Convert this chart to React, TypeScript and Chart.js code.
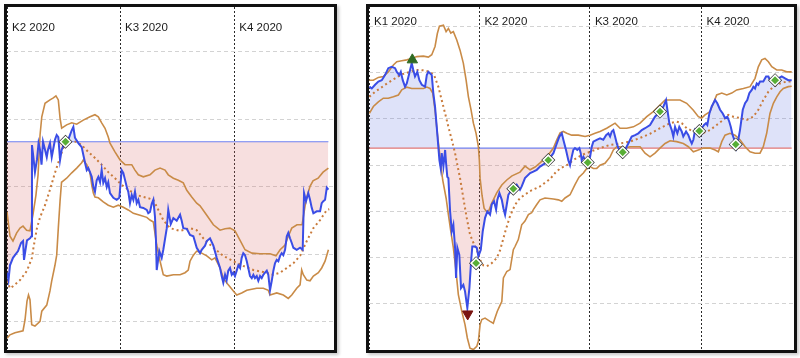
import React, { useEffect, useRef } from "react";
import { Chart, registerables } from "chart.js";

Chart.register(...registerables);

type P = [number, number][];

// ---------- LEFT PANEL (day of year 2020, value) ----------
const leftQuarterDays = [92, 183, 275];
const leftQuarterLabels = ["K2 2020", "K3 2020", "K4 2020"];
const leftGridValues = [40, 50, 60, 70, 80];
const leftRef = 66.7;

const leftPrice: P = [[92.0,47.3],[93.2,46.2],[94.4,48.4],[96.8,49.5],[98.4,49.9],[100.9,50.5],[103.3,51.7],[104.9,52.0],[105.7,49.2],[106.9,50.7],[108.1,52.1],[110.5,52.4],[111.7,52.7],[112.1,66.2],[113.3,64.3],[114.5,62.2],[116.1,64.0],[117.4,66.5],[118.6,65.5],[119.8,63.3],[121.0,66.7],[122.6,65.5],[124.0,64.4],[125.0,65.5],[126.6,66.5],[128.0,64.4],[130.6,67.0],[132.0,67.7],[133.3,67.4],[134.7,64.0],[136.0,65.5],[138.7,66.7],[141.3,67.0],[144.1,68.4],[145.4,68.9],[146.7,67.3],[149.4,66.5],[152.1,65.9],[154.8,63.6],[156.2,62.5],[157.4,62.8],[158.8,62.2],[160.2,61.5],[161.5,60.0],[162.8,59.3],[164.2,61.0],[165.5,61.5],[166.9,60.7],[168.2,62.5],[169.5,60.6],[170.9,61.3],[172.3,60.0],[173.5,60.7],[174.9,59.1],[177.6,58.4],[180.3,58.1],[182.4,58.4],[184.3,62.5],[185.6,62.1],[188.4,60.0],[189.6,59.3],[191.0,57.6],[192.4,58.8],[193.7,58.1],[195.0,59.3],[196.4,57.6],[197.7,58.1],[199.1,57.0],[201.7,56.9],[204.5,56.6],[205.7,56.1],[207.1,56.3],[208.5,57.5],[209.8,58.1],[211.1,55.6],[211.9,52.1],[212.5,47.7],[214.6,50.5],[216.5,49.5],[217.8,50.7],[220.6,53.9],[221.8,56.6],[223.8,54.5],[225.9,55.4],[228.6,55.0],[231.3,55.9],[232.6,55.0],[233.9,53.9],[236.7,53.8],[239.3,52.9],[242.0,52.7],[244.7,51.0],[247.4,50.2],[248.7,50.7],[251.4,51.3],[252.8,52.0],[255.4,52.4],[258.1,51.3],[260.8,49.5],[263.5,48.0],[264.8,46.8],[266.1,45.8],[267.5,47.0],[268.8,46.2],[270.1,47.6],[271.5,48.0],[272.9,47.0],[274.2,47.3],[275.5,46.8],[276.9,47.6],[278.2,48.4],[279.6,48.0],[280.9,49.5],[282.2,50.2],[283.6,49.9],[285.0,49.0],[287.6,46.8],[289.0,46.5],[290.3,47.0],[291.6,46.5],[293.0,46.8],[294.3,46.1],[295.7,46.8],[297.0,46.5],[298.3,47.0],[299.7,47.3],[301.1,47.6],[302.3,47.0],[303.7,44.7],[305.1,46.1],[306.4,47.6],[307.7,48.7],[309.1,49.2],[310.4,49.0],[311.8,49.8],[313.1,50.2],[314.4,49.9],[315.8,50.7],[317.2,52.7],[318.4,53.2],[319.8,52.4],[321.2,51.7],[322.5,51.0],[325.2,50.7],[327.9,51.0],[330.0,50.7],[331.1,59.1],[332.7,57.9],[334.5,59.1],[335.9,58.1],[337.3,56.9],[338.6,56.1],[341.3,56.4],[344.0,56.4],[345.3,57.6],[346.6,57.9],[348.0,58.1],[349.4,59.9],[350.7,59.6]];

const leftUpper: P = [[92.0,56.3],[94.4,52.7],[96.8,52.0],[99.8,53.2],[102.5,53.9],[104.9,54.2],[107.8,53.6],[110.5,53.5],[112.9,55.9],[115.3,58.8],[117.0,61.8],[118.6,67.7],[120.0,70.4],[122.6,72.4],[126.6,72.9],[129.3,73.2],[131.4,73.5],[133.3,72.9],[134.7,70.2],[136.0,68.7],[140.0,69.2],[144.1,69.5],[148.1,69.3],[153.4,69.9],[158.8,70.4],[162.8,70.7],[165.5,70.4],[168.2,69.5],[170.9,68.7],[173.5,67.4],[174.9,66.5],[178.9,65.2],[183.0,64.0],[187.0,63.3],[192.4,63.3],[195.0,62.5],[197.7,61.8],[201.7,61.5],[207.1,61.8],[211.1,62.5],[215.2,62.8],[219.2,62.5],[221.8,61.8],[225.9,61.3],[229.9,61.0],[233.9,60.6],[236.7,59.5],[240.7,58.5],[244.7,57.6],[247.4,57.2],[252.8,55.8],[258.1,54.4],[263.5,53.6],[267.5,53.8],[271.5,53.9],[275.5,53.5],[279.6,52.1],[283.6,50.7],[289.2,50.2],[295.7,50.1],[303.7,50.1],[308.5,49.8],[311.8,50.7],[315.8,51.4],[318.4,52.7],[321.2,53.9],[325.4,54.4],[329.5,54.4],[332.7,58.1],[335.9,60.1],[338.3,60.9],[342.4,61.3],[346.4,62.2],[350.7,62.8]];

const leftLower: P = [[92.0,37.6],[94.4,38.1],[98.4,38.4],[104.9,38.7],[106.5,40.3],[108.1,43.1],[109.3,44.0],[110.5,43.3],[111.9,39.6],[114.5,39.4],[118.6,40.1],[120.0,41.6],[124.0,42.5],[126.6,44.6],[128.0,46.1],[130.6,48.4],[132.0,49.9],[133.3,53.9],[134.7,57.9],[135.9,60.7],[137.3,60.9],[140.0,61.3],[144.1,62.1],[148.1,62.8],[152.1,63.6],[153.4,64.0],[156.2,63.3],[158.8,62.1],[160.2,60.3],[161.5,59.1],[162.8,58.5],[165.5,58.4],[169.5,57.8],[173.5,57.3],[177.6,57.0],[181.6,57.3],[185.6,57.0],[189.6,56.6],[193.7,56.1],[199.1,55.8],[204.5,55.5],[207.1,55.1],[209.8,54.8],[212.5,51.4],[215.2,49.0],[217.8,47.0],[220.6,46.8],[225.9,47.0],[231.3,47.0],[235.3,47.3],[237.9,47.7],[239.3,49.0],[242.0,49.9],[244.7,50.5],[248.7,50.2],[252.8,49.8],[256.8,49.2],[259.4,49.5],[263.5,48.0],[266.1,46.5],[270.1,45.5],[274.2,44.6],[276.9,44.0],[280.9,44.3],[285.0,44.7],[293.0,45.0],[298.3,45.0],[302.3,44.7],[303.7,44.0],[309.1,44.3],[314.4,44.0],[318.4,43.5],[321.2,44.0],[325.2,45.0],[327.9,45.5],[329.2,47.7],[330.5,47.0],[333.3,46.2],[335.9,46.1],[338.6,46.8],[342.6,47.3],[345.3,48.0],[348.0,49.0],[350.7,50.7]];

const leftMid: P = [[92.0,46.1],[94.4,45.0],[96.8,45.3],[102.5,46.2],[108.1,47.6],[112.1,49.5],[113.3,51.0],[116.1,53.9],[118.6,55.5],[122.6,57.3],[126.6,59.6],[130.6,62.1],[134.7,64.4],[137.3,65.8],[140.0,66.5],[144.1,66.7],[148.1,66.7],[152.1,66.2],[157.4,65.2],[162.8,64.3],[168.2,63.3],[173.5,62.2],[178.9,61.3],[184.3,60.3],[189.6,59.6],[196.4,58.8],[204.5,58.4],[209.8,58.1],[213.8,56.6],[217.8,55.1],[223.2,53.9],[231.3,53.5],[239.3,53.9],[244.7,53.6],[250.0,52.4],[258.1,51.0],[266.1,49.8],[274.2,49.0],[282.2,48.3],[290.3,47.7],[298.3,47.4],[306.4,47.0],[311.8,47.3],[317.2,48.0],[322.5,48.7],[327.9,49.8],[333.3,52.0],[338.6,53.9],[344.0,55.1],[349.4,56.6],[351.4,56.7]];

const leftSignals: P = [[139.1, 66.7]];

// ---------- RIGHT PANEL ----------
const rightQuarterDays = [1, 92, 183, 275];
const rightQuarterLabels = ["K1 2020", "K2 2020", "K3 2020", "K4 2020"];
const rightGridValues = [30, 40, 50, 60, 70, 80, 90, 100];
const rightRef = 73.7;

const rightPrice: P = [[1.3,87.0],[3.3,86.6],[6.0,87.4],[8.7,88.1],[11.5,88.4],[14.2,89.5],[16.9,91.0],[19.7,91.3],[22.5,91.0],[23.9,90.2],[26.0,89.5],[27.2,90.2],[28.8,88.4],[30.7,87.0],[32.1,87.7],[34.2,89.9],[36.2,92.1],[37.5,90.6],[38.9,89.2],[40.8,90.2],[42.5,88.4],[44.5,87.4],[47.2,87.0],[48.6,89.5],[49.9,90.2],[51.3,89.9],[52.7,89.5],[54.0,85.6],[55.4,82.7],[56.8,78.3],[58.1,74.0],[59.0,71.1],[60.1,69.3],[60.9,72.6],[62.3,69.7],[63.7,73.3],[64.5,70.4],[65.5,67.5],[66.4,67.2],[67.8,60.0],[69.2,55.7],[70.5,57.1],[71.9,52.1],[72.7,45.6],[73.8,52.1],[75.4,50.6],[76.8,43.4],[78.7,44.1],[80.1,42.7],[82.0,39.1],[83.7,43.4],[85.1,49.2],[86.1,52.4],[88.4,52.4],[89.8,52.1],[91.1,50.3],[93.1,51.7],[94.7,55.7],[96.6,58.6],[98.5,60.0],[100.7,59.3],[102.1,61.5],[104.0,62.2],[105.7,60.4],[106.7,62.5],[108.4,64.0],[110.4,62.5],[111.7,60.7],[113.1,59.3],[114.5,61.5],[115.8,63.6],[118.6,64.7],[119.9,64.9],[122.7,65.8],[125.4,64.7],[126.8,65.4],[129.5,67.2],[133.7,68.3],[136.4,68.6],[139.2,69.0],[141.9,69.7],[146.0,70.4],[148.7,71.1],[152.9,72.6],[155.7,74.7],[157.8,76.2],[159.8,76.9],[161.1,75.5],[163.3,73.3],[165.2,71.1],[166.6,70.0],[168.0,71.8],[169.3,73.3],[170.7,73.7],[172.6,73.3],[174.3,73.7],[175.4,72.6],[176.2,71.1],[177.6,71.8],[179.8,70.8],[181.2,70.6],[183.1,71.8],[184.5,74.0],[185.8,75.1],[188.6,75.5],[191.3,75.8],[194.0,75.5],[196.3,76.5],[198.2,76.9],[199.6,76.2],[201.0,77.3],[202.3,77.6],[203.7,76.2],[205.1,74.7],[206.4,73.7],[208.4,72.9],[210.0,72.8],[211.9,73.3],[214.6,74.7],[217.4,76.2],[220.2,76.5],[222.9,76.9],[225.7,77.6],[228.4,78.0],[232.5,78.7],[236.6,80.5],[240.7,81.6],[243.5,82.7],[245.7,84.1],[246.8,82.0],[248.4,79.1],[250.4,77.6],[251.7,76.2],[253.1,78.3],[255.0,76.9],[256.6,78.3],[258.6,77.3],[259.9,76.2],[262.2,77.3],[264.1,76.5],[265.5,75.5],[266.9,74.7],[268.2,75.5],[269.6,77.6],[271.5,76.9],[273.1,77.4],[275.1,78.0],[277.0,78.7],[278.6,79.1],[279.7,78.7],[281.4,81.2],[283.3,82.7],[286.1,84.1],[287.9,83.4],[290.2,82.0],[292.4,81.2],[294.3,80.2],[296.2,80.5],[297.8,79.4],[299.0,78.3],[300.6,76.5],[302.5,75.1],[303.1,74.5],[305.2,75.5],[306.6,77.6],[308.9,82.0],[310.8,83.4],[312.6,84.1],[314.3,85.6],[316.3,86.3],[317.6,87.0],[319.0,86.6],[320.4,87.7],[321.7,87.4],[323.1,88.1],[325.8,88.1],[328.1,89.2],[330.0,89.2],[331.3,88.4],[333.6,88.8],[335.5,88.4],[338.2,88.8],[341.0,89.2],[343.7,88.8],[346.4,88.4],[349.2,88.4]];

const rightUpper: P = [[1.3,88.4],[4.6,88.4],[8.7,89.0],[12.8,89.2],[16.9,90.2],[21.1,91.7],[23.9,92.4],[28.0,92.6],[32.1,92.8],[36.2,93.1],[40.4,93.5],[45.8,93.6],[49.9,93.4],[52.7,93.9],[55.4,95.7],[57.3,98.5],[59.0,100.1],[62.3,100.3],[64.5,98.9],[66.4,99.6],[68.4,98.6],[70.5,98.9],[73.3,97.1],[76.0,94.9],[78.7,92.1],[81.0,88.4],[82.9,84.8],[85.1,81.9],[87.0,79.1],[89.2,76.9],[91.1,74.0],[91.9,71.1],[92.5,67.2],[94.1,63.5],[95.8,60.7],[98.0,59.9],[99.9,60.3],[102.1,61.8],[106.2,64.0],[110.4,65.7],[114.5,66.8],[118.8,67.7],[125.4,68.5],[129.5,69.8],[133.7,69.0],[137.8,69.6],[141.9,70.5],[147.4,71.8],[152.9,73.7],[155.7,75.5],[158.4,77.0],[161.1,77.3],[163.9,76.9],[168.0,76.5],[173.4,76.5],[179.0,76.2],[183.1,76.5],[187.2,76.9],[191.3,77.3],[196.8,78.0],[203.7,79.1],[207.8,78.0],[213.3,78.0],[218.8,78.3],[224.3,79.1],[229.8,80.5],[235.2,81.6],[240.7,83.0],[244.9,84.1],[251.7,84.1],[257.2,84.1],[262.7,83.4],[268.2,81.9],[272.3,80.5],[275.1,80.2],[277.8,80.9],[281.9,81.6],[284.7,83.4],[287.4,85.2],[291.6,85.6],[295.7,85.2],[299.8,85.6],[303.9,86.3],[309.4,86.6],[314.9,87.0],[319.0,88.8],[321.7,91.3],[324.5,92.8],[327.2,93.1],[330.0,92.4],[332.8,91.3],[336.9,90.6],[341.0,90.6],[345.1,90.2],[349.2,90.2]];

const rightLower: P = [[1.3,81.2],[4.6,82.7],[8.7,83.7],[12.8,84.5],[16.9,84.5],[21.1,84.8],[25.2,85.2],[28.0,86.3],[32.1,86.9],[36.2,86.6],[41.7,86.6],[45.8,86.6],[48.6,86.9],[51.3,86.6],[53.5,85.6],[55.4,81.9],[57.3,76.9],[59.5,71.8],[61.7,66.8],[64.5,62.9],[66.4,59.3],[68.4,55.7],[70.5,52.1],[72.7,47.0],[74.6,42.0],[77.4,38.4],[80.1,35.5],[82.0,32.6],[84.2,30.4],[87.0,30.1],[89.8,30.8],[91.1,31.9],[92.5,35.5],[93.9,36.6],[96.6,36.9],[100.7,36.2],[103.4,35.8],[104.8,36.9],[106.7,38.4],[109.0,39.7],[110.4,40.5],[111.7,45.6],[114.5,47.0],[117.2,47.4],[119.9,51.7],[121.3,52.4],[124.0,53.9],[126.8,57.1],[129.5,57.9],[132.3,59.3],[135.0,59.7],[136.4,60.4],[139.2,61.5],[141.9,62.5],[146.0,62.9],[152.9,62.7],[157.0,62.5],[159.8,62.2],[162.5,62.9],[166.6,63.6],[170.7,65.8],[174.0,67.4],[177.6,68.3],[180.4,69.3],[183.1,69.7],[185.8,69.3],[188.6,69.3],[191.3,70.0],[195.4,70.4],[199.6,71.8],[202.3,73.3],[205.1,74.0],[207.8,74.0],[211.9,73.7],[216.0,74.0],[221.5,74.0],[224.3,74.0],[228.4,72.6],[232.5,71.8],[236.6,72.6],[240.7,73.7],[244.9,74.7],[249.0,75.3],[254.5,75.1],[259.9,74.7],[264.1,74.0],[268.2,72.9],[272.3,73.3],[276.4,73.7],[281.9,73.7],[286.1,73.3],[288.8,72.9],[291.6,75.1],[294.3,76.5],[298.4,76.9],[302.5,76.5],[306.6,75.5],[310.8,74.0],[314.9,72.9],[319.0,72.6],[323.1,72.6],[325.8,74.0],[328.6,76.9],[331.3,81.2],[334.1,83.4],[336.9,84.8],[339.6,85.9],[342.3,86.6],[346.4,87.0],[349.2,87.1]];

const rightMid: P = [[1.3,84.8],[6.0,85.9],[10.1,86.6],[14.2,87.4],[18.3,88.1],[22.5,88.8],[26.6,89.5],[30.7,89.9],[34.8,90.2],[38.9,90.6],[43.1,90.6],[47.2,90.5],[51.3,90.2],[54.6,89.5],[58.1,87.0],[60.9,84.1],[63.7,81.2],[66.4,78.3],[69.2,75.5],[71.9,72.6],[74.6,69.0],[76.0,67.2],[78.7,62.9],[81.5,58.6],[84.2,55.0],[87.0,53.2],[89.8,51.7],[92.5,49.5],[95.2,48.3],[98.0,48.1],[102.1,48.8],[106.2,49.9],[109.0,51.6],[113.1,55.5],[117.2,59.0],[121.3,61.4],[125.4,62.9],[133.7,64.4],[141.9,65.4],[150.1,67.0],[154.3,68.3],[158.4,69.3],[163.9,70.0],[169.3,71.1],[176.2,72.2],[183.1,72.9],[191.3,73.7],[199.6,74.4],[207.8,74.7],[216.0,75.1],[224.3,75.9],[232.5,76.8],[240.7,78.0],[249.0,79.1],[254.5,79.4],[258.6,79.1],[262.7,78.0],[268.2,77.3],[272.3,76.9],[276.4,77.0],[281.9,77.6],[287.4,78.7],[292.9,79.8],[297.0,80.9],[301.1,80.5],[306.6,80.2],[312.1,79.8],[317.6,80.5],[321.7,82.0],[325.8,84.1],[330.0,85.9],[334.1,87.0],[339.6,87.7],[345.1,88.1],[349.2,88.1]];

const rightSignals: P = [[89.2,48.8],[119.9,64.9],[148.7,71.1],[181.2,70.6],[210.0,72.8],[240.7,81.6],[273.1,77.4],[303.1,74.5],[335.5,88.4]];
const rightPeaks: P = [[36.7, 92.8]];
const rightTroughs: P = [[82.3, 37.8]];

// ---------- rendering ----------
const toXY = (p: P) => p.map(([x, y]) => ({ x, y }));

const BLUE = "#3a4de6";
const BAND = "#c98b47";
const MID = "#c97b3c";
const REF_BLUE = "#6f80ef";
const REF_RED = "#e07676";

const quarterLabelPlugin = {
  id: "quarterLabels",
  afterDatasetsDraw(chart: any, _a: any, opts: any) {
    const { ctx, chartArea, scales } = chart;
    ctx.save();
    ctx.font = '11.5px "Liberation Sans", Arial, Helvetica, sans-serif';
    ctx.fillStyle = "#1b1b1b";
    ctx.textBaseline = "alphabetic";
    ctx.textAlign = "left";
    opts.days.forEach((d: number, i: number) => {
      ctx.fillText(opts.labels[i], scales.x.getPixelForValue(d) + 5, chartArea.top + opts.baseline);
    });
    ctx.restore();
  },
};

interface Spec {
  price: P; upper: P; lower: P; mid: P; ref: number; splitRef: boolean;
  signals: P; peaks: P; troughs: P;
  xMin: number; xMax: number; yMin: number; yMax: number;
  gridValues: number[]; quarterDays: number[]; quarterLabels: string[]; baseline: number;
}

function buildConfig(s: Spec): any {
  const priceVals = s.price.map((p) => p[1]);
  const datasets: any[] = [
    { data: toXY(s.signals), showLine: false, pointStyle: "rectRot", pointRadius: 5, pointBackgroundColor: "#58ae36", pointBorderColor: "#ffffff", pointBorderWidth: 1.5, order: 0 },
    { data: toXY(s.signals), showLine: false, pointStyle: "rectRot", pointRadius: 7, pointBackgroundColor: "#2b2b2b", pointBorderWidth: 0, order: 1 },
    { data: toXY(s.peaks), showLine: false, pointStyle: "triangle", pointRadius: 6, pointBackgroundColor: "#2f6a22", pointBorderColor: "#2f6a22", pointBorderWidth: 1, order: 0 },
    { data: toXY(s.troughs), showLine: false, pointStyle: "triangle", pointRotation: 180, pointRadius: 6, pointBackgroundColor: "#7a1410", pointBorderColor: "#7a1410", pointBorderWidth: 1, order: 0 },
    {
      data: toXY(s.price), borderColor: BLUE, borderWidth: 2, pointRadius: 0, tension: 0, order: 2,
      fill: { target: { value: s.ref }, above: "rgba(90,110,225,0.2)", below: "rgba(220,110,110,0.22)" },
    },
    { data: toXY(s.mid), borderColor: MID, borderWidth: 2, borderDash: [2, 3], pointRadius: 0, fill: false, order: 3 },
    { data: toXY(s.upper), borderColor: BAND, borderWidth: 1.6, pointRadius: 0, fill: false, order: 4 },
    { data: toXY(s.lower), borderColor: BAND, borderWidth: 1.6, pointRadius: 0, fill: false, order: 4 },
    {
      data: s.price.map(([x]) => ({ x, y: s.ref })), borderWidth: 1.2, pointRadius: 0, fill: false, order: 5,
      borderColor: REF_BLUE,
      segment: {
        borderColor: (ctx: any) =>
          s.splitRef && priceVals[ctx.p0DataIndex] >= s.ref && priceVals[ctx.p1DataIndex] >= s.ref ? REF_RED : REF_BLUE,
      },
    },
  ];
  return {
    type: "line",
    data: { datasets },
    plugins: [quarterLabelPlugin],
    options: {
      animation: false,
      responsive: false,
      events: [],
      layout: { padding: 0, autoPadding: false },
      plugins: {
        legend: { display: false },
        tooltip: { enabled: false },
        filler: { drawTime: "beforeDatasetsDraw" },
        quarterLabels: { days: s.quarterDays, labels: s.quarterLabels, baseline: s.baseline },
      },
      scales: {
        x: {
          type: "linear", min: s.xMin, max: s.xMax,
          afterBuildTicks: (axis: any) => { axis.ticks = s.quarterDays.map((v) => ({ value: v })); },
          afterFit: (axis: any) => { axis.height = 0; },
          ticks: { display: false },
          grid: { color: "#2a2a2a", lineWidth: 1, drawTicks: false },
          border: { display: false, dash: [2, 2] },
        },
        y: {
          type: "linear", min: s.yMin, max: s.yMax,
          afterBuildTicks: (axis: any) => { axis.ticks = s.gridValues.map((v) => ({ value: v })); },
          afterFit: (axis: any) => { axis.width = 0; },
          ticks: { display: false },
          grid: { color: "#d3d3d3", lineWidth: 1, drawTicks: false },
          border: { display: false, dash: [4, 3] },
        },
      },
    },
  };
}

function Panel({ spec, width, height }: { spec: Spec; width: number; height: number }) {
  const ref = useRef<HTMLCanvasElement>(null);
  useEffect(() => {
    const chart = new Chart(ref.current as HTMLCanvasElement, buildConfig(spec));
    return () => chart.destroy();
  }, []);
  return <canvas ref={ref} width={width} height={height} style={{ display: "block", width, height }} />;
}

const leftSpec: Spec = {
  price: leftPrice, upper: leftUpper, lower: leftLower, mid: leftMid, ref: leftRef, splitRef: false,
  signals: leftSignals, peaks: [], troughs: [],
  xMin: 92, xMax: 355.2, yMin: 35.85, yMax: 86.66,
  gridValues: leftGridValues, quarterDays: leftQuarterDays, quarterLabels: leftQuarterLabels, baseline: 23.7,
};

const rightSpec: Spec = {
  price: rightPrice, upper: rightUpper, lower: rightLower, mid: rightMid, ref: rightRef, splitRef: true,
  signals: rightSignals, peaks: rightPeaks, troughs: rightTroughs,
  xMin: 1, xMax: 351.1, yMin: 30, yMax: 104.24,
  gridValues: rightGridValues, quarterDays: rightQuarterDays, quarterLabels: rightQuarterLabels, baseline: 18,
};

const boxStyle = (left: number, width: number): React.CSSProperties => ({
  position: "absolute", left, top: 4, width, height: 349, boxSizing: "border-box",
  border: "3px solid #111", background: "#fff", boxShadow: "2px 2px 3px rgba(0,0,0,0.22)",
});

export default function App() {
  return (
    <div style={{ position: "absolute", left: 0, top: 0, width: 800, height: 358, background: "#fff", overflow: "hidden" }}>
      <div style={boxStyle(4, 333)}>
        <Panel spec={leftSpec} width={327} height={343} />
      </div>
      <div style={boxStyle(366, 431)}>
        <Panel spec={rightSpec} width={425} height={343} />
      </div>
    </div>
  );
}
